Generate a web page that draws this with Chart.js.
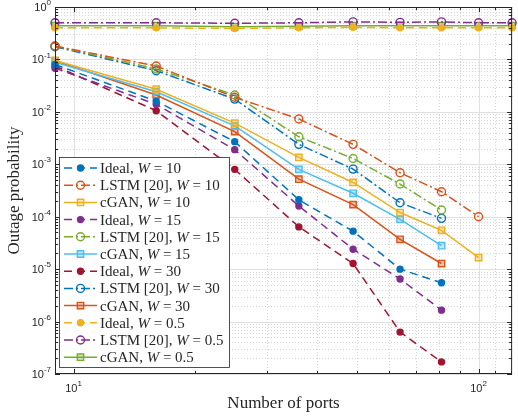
<!DOCTYPE html>
<html>
<head>
<meta charset="utf-8">
<script src="https://cdn.jsdelivr.net/npm/chart.js@4.4.0/dist/chart.umd.min.js"></script>
<style>
  body { margin: 0; background: #fff; }
  #wrap { width: 518px; height: 417px; }
</style>
</head>
<body>
<div id="wrap"><canvas id="chart" width="518" height="417"></canvas></div>
<script>
// Number of ports (x values)
const ports = [9, 16, 25, 36, 49, 64, 81, 100, 121];

// Outage probability per series
const idealW10 = [0.080, 0.016, 0.0027, 0.00021, 5.3e-5, 1.0e-5, 5.5e-6];
const lstmW10  = [0.18, 0.075, 0.019, 0.0073, 0.0024, 0.00069, 0.00030, 1.0e-4];
const cganW10  = [0.095, 0.027, 0.0061, 0.00135, 0.00045, 0.00012, 5.5e-5, 1.66e-5];
const idealW15 = [0.068, 0.0139, 0.0019, 0.00016, 2.4e-5, 6.5e-6, 1.65e-6];
const lstmW15  = [0.18, 0.066, 0.021, 0.00335, 0.00129, 0.00042, 0.000134];
const cganW15  = [0.088, 0.0242, 0.0054, 0.00080, 0.00028, 8.9e-5, 2.8e-5];
const idealW30 = [0.075, 0.0105, 0.00080, 6.4e-5, 1.28e-5, 6.3e-7, 1.7e-7];
const lstmW30  = [0.175, 0.061, 0.0175, 0.0024, 0.00081, 0.000185, 9.3e-5];
const cganW30  = [0.095, 0.021, 0.0042, 0.00052, 0.00017, 3.7e-5, 1.28e-5];
const idealW05 = [0.40, 0.40, 0.39, 0.40, 0.41, 0.40, 0.40, 0.40, 0.40];
const lstmW05  = [0.50, 0.50, 0.49, 0.50, 0.52, 0.51, 0.52, 0.50, 0.50];
const cganW05  = [0.44, 0.44, 0.42, 0.43, 0.44, 0.44, 0.44, 0.44, 0.44];

const yDecades = [-7, -6, -5, -4, -3, -2, -1, 0];
const xMajor = [10, 100];

const C = {
  blue: '#0072BD', orange: '#D95319', yellow: '#EDB120', purple: '#7E2F8E',
  green: '#77AC30', cyan: '#4DBEEE', red: '#A2142F'
};

function toXY(vals) {
  return vals.map((v, i) => ({ x: ports[i], y: v }));
}

function series(kind, w, color, vals) {
  const base = {
    name: kind === 'ideal' ? 'Ideal' : kind === 'lstm' ? 'LSTM [20]' : 'cGAN',
    wLabel: w,
    data: toXY(vals),
    borderColor: color,
    pointBorderColor: color,
    borderWidth: 1.5,
    pointBorderWidth: 1.4,
    clip: false,
    tension: 0
  };
  if (kind === 'ideal') {
    base.borderDash = [8, 5];
    base.pointStyle = 'circle';
    base.pointRadius = 3;
    base.pointBackgroundColor = color;
  } else if (kind === 'lstm') {
    base.borderDash = [9, 3, 2, 3];
    base.pointStyle = 'circle';
    base.pointRadius = 4;
    base.pointBackgroundColor = 'rgba(255,255,255,0)';
  } else {
    base.pointStyle = 'rect';
    base.pointRadius = 4.5;
    base.pointBackgroundColor = color + '55';
  }
  return base;
}

const datasets = [
  series('ideal', '10', C.blue, idealW10),
  series('lstm', '10', C.orange, lstmW10),
  series('cgan', '10', C.yellow, cganW10),
  series('ideal', '15', C.purple, idealW15),
  series('lstm', '15', C.green, lstmW15),
  series('cgan', '15', C.cyan, cganW15),
  series('ideal', '30', C.red, idealW30),
  series('lstm', '30', C.blue, lstmW30),
  series('cgan', '30', C.orange, cganW30),
  series('ideal', '0.5', C.yellow, idealW05),
  series('lstm', '0.5', C.purple, lstmW05),
  series('cgan', '0.5', C.green, cganW05)
];

const SANS = '"Liberation Sans", Arial, sans-serif';
const SERIF = '"Liberation Serif", "Times New Roman", serif';
const AX = '#262626';

function drawPow(ctx, x, y, exp, align) {
  ctx.font = '11px ' + SANS;
  const bw = ctx.measureText('10').width;
  ctx.font = '8px ' + SANS;
  const ew = ctx.measureText(exp).width;
  let left = align === 'right' ? x - bw - ew : x - (bw + ew) / 2;
  ctx.fillStyle = AX;
  ctx.textAlign = 'left';
  ctx.textBaseline = 'middle';
  ctx.font = '11px ' + SANS;
  ctx.fillText('10', left, y + 1);
  ctx.font = '8px ' + SANS;
  ctx.fillText(exp, left + bw, y - 4);
}

const matlabAxes = {
  id: 'matlabAxes',
  beforeDatasetsDraw(chart) {
    const { ctx, chartArea: a, scales: { x, y } } = chart;
    ctx.save();
    ctx.lineWidth = 0.8;
    // minor grid (dotted)
    ctx.strokeStyle = '#cccccc';
    ctx.setLineDash([1, 2]);
    for (let e = -7; e < 0; e++) {
      for (let k = 2; k <= 9; k++) {
        const py = Math.round(y.getPixelForValue(k * Math.pow(10, e))) + 0.5;
        ctx.beginPath(); ctx.moveTo(a.left, py); ctx.lineTo(a.right, py); ctx.stroke();
      }
    }
    [20, 30, 40, 50, 60, 70, 80, 90, 110, 120].forEach(v => {
      const px = Math.round(x.getPixelForValue(v)) + 0.5;
      ctx.beginPath(); ctx.moveTo(px, a.top); ctx.lineTo(px, a.bottom); ctx.stroke();
    });
    // major grid
    ctx.setLineDash([]);
    ctx.strokeStyle = '#e0e0e0';
    ctx.lineWidth = 1;
    yDecades.forEach(e => {
      const py = Math.round(y.getPixelForValue(Math.pow(10, e))) + 0.5;
      ctx.beginPath(); ctx.moveTo(a.left, py); ctx.lineTo(a.right, py); ctx.stroke();
    });
    xMajor.forEach(v => {
      const px = Math.round(x.getPixelForValue(v)) + 0.5;
      ctx.beginPath(); ctx.moveTo(px, a.top); ctx.lineTo(px, a.bottom); ctx.stroke();
    });
    ctx.restore();
  },
  afterDatasetsDraw(chart) {
    const { ctx, chartArea: a, scales: { x, y } } = chart;
    ctx.save();
    ctx.strokeStyle = AX;
    ctx.lineWidth = 1;
    // box
    ctx.strokeRect(a.left + 0.5, a.top + 0.5, a.right - a.left - 1, a.bottom - a.top - 1);
    // y ticks
    for (let e = -7; e <= 0; e++) {
      for (let k = 1; k <= 9; k++) {
        if (e === 0 && k > 1) break;
        const py = Math.round(y.getPixelForValue(k * Math.pow(10, e))) + 0.5;
        const len = k === 1 ? 5 : 3;
        ctx.beginPath();
        ctx.moveTo(a.left, py); ctx.lineTo(a.left + len, py);
        ctx.moveTo(a.right, py); ctx.lineTo(a.right - len, py);
        ctx.stroke();
      }
    }
    // x ticks
    [9, 10, 20, 30, 40, 50, 60, 70, 80, 90, 100, 110, 120].forEach(v => {
      const px = Math.round(x.getPixelForValue(v)) + 0.5;
      const len = (v === 10 || v === 100) ? 5 : 3;
      ctx.beginPath();
      ctx.moveTo(px, a.bottom); ctx.lineTo(px, a.bottom - len);
      ctx.moveTo(px, a.top); ctx.lineTo(px, a.top + len);
      ctx.stroke();
    });
    // tick labels
    yDecades.forEach(e => {
      drawPow(ctx, a.left - 4, y.getPixelForValue(Math.pow(10, e)), e === 0 ? '0' : '-' + (-e), 'right');
    });
    xMajor.forEach(v => {
      drawPow(ctx, x.getPixelForValue(v), a.bottom + 14, String(Math.round(Math.log10(v))), 'center');
    });
    // axis titles
    ctx.fillStyle = AX;
    ctx.font = '17px ' + SERIF;
    ctx.textAlign = 'center';
    ctx.textBaseline = 'middle';
    ctx.fillText('Number of ports', (a.left + a.right) / 2, 404);
    ctx.save();
    ctx.translate(15, (a.top + a.bottom) / 2);
    ctx.rotate(-Math.PI / 2);
    ctx.fillText('Outage probability', 0, 0);
    ctx.restore();

    // legend
    const lx = 59.5, ly = 157.5, lw = 170, lh = 210;
    ctx.fillStyle = '#fff';
    ctx.fillRect(lx, ly, lw, lh);
    ctx.strokeStyle = AX;
    ctx.lineWidth = 0.8;
    ctx.strokeRect(lx, ly, lw, lh);
    chart.data.datasets.forEach((ds, i) => {
      const cy = 168 + i * 17.2;
      ctx.save();
      ctx.strokeStyle = ds.borderColor;
      ctx.lineWidth = ds.borderWidth;
      ctx.setLineDash(ds.borderDash || []);
      ctx.beginPath(); ctx.moveTo(64, cy); ctx.lineTo(97, cy); ctx.stroke();
      ctx.setLineDash([]);
      ctx.fillStyle = ds.pointBackgroundColor;
      ctx.strokeStyle = ds.pointBorderColor;
      ctx.lineWidth = ds.pointBorderWidth;
      Chart.helpers.drawPoint(ctx, { pointStyle: ds.pointStyle, radius: ds.pointRadius, borderWidth: ds.pointBorderWidth, rotation: 0 }, 80.5, cy);
      ctx.restore();
      ctx.fillStyle = AX;
      ctx.textAlign = 'left';
      ctx.textBaseline = 'middle';
      let tx = 100;
      const parts = [[ds.name + ', ', false], ['W', true], [' = ' + ds.wLabel, false]];
      parts.forEach(([t, it]) => {
        ctx.font = (it ? 'italic ' : '') + '15px ' + SERIF;
        ctx.fillText(t, tx, cy + 1);
        tx += ctx.measureText(t).width;
      });
    });
    ctx.restore();
  }
};

const bgPlugin = {
  id: 'bg',
  beforeDraw(chart) {
    const ctx = chart.ctx;
    ctx.save();
    ctx.fillStyle = '#fff';
    ctx.fillRect(0, 0, chart.width, chart.height);
    ctx.restore();
  }
};

new Chart(document.getElementById('chart').getContext('2d'), {
  type: 'line',
  data: { datasets },
  options: {
    responsive: false,
    devicePixelRatio: 1,
    animation: false,
    layout: { padding: { left: 55, right: 1, top: 7, bottom: 43 } },
    scales: {
      x: { type: 'logarithmic', min: 9, max: 121, display: false },
      y: { type: 'logarithmic', min: 1e-7, max: 1, display: false }
    },
    plugins: { legend: { display: false }, tooltip: { enabled: false } }
  },
  plugins: [bgPlugin, matlabAxes]
});
</script>
</body>
</html>
